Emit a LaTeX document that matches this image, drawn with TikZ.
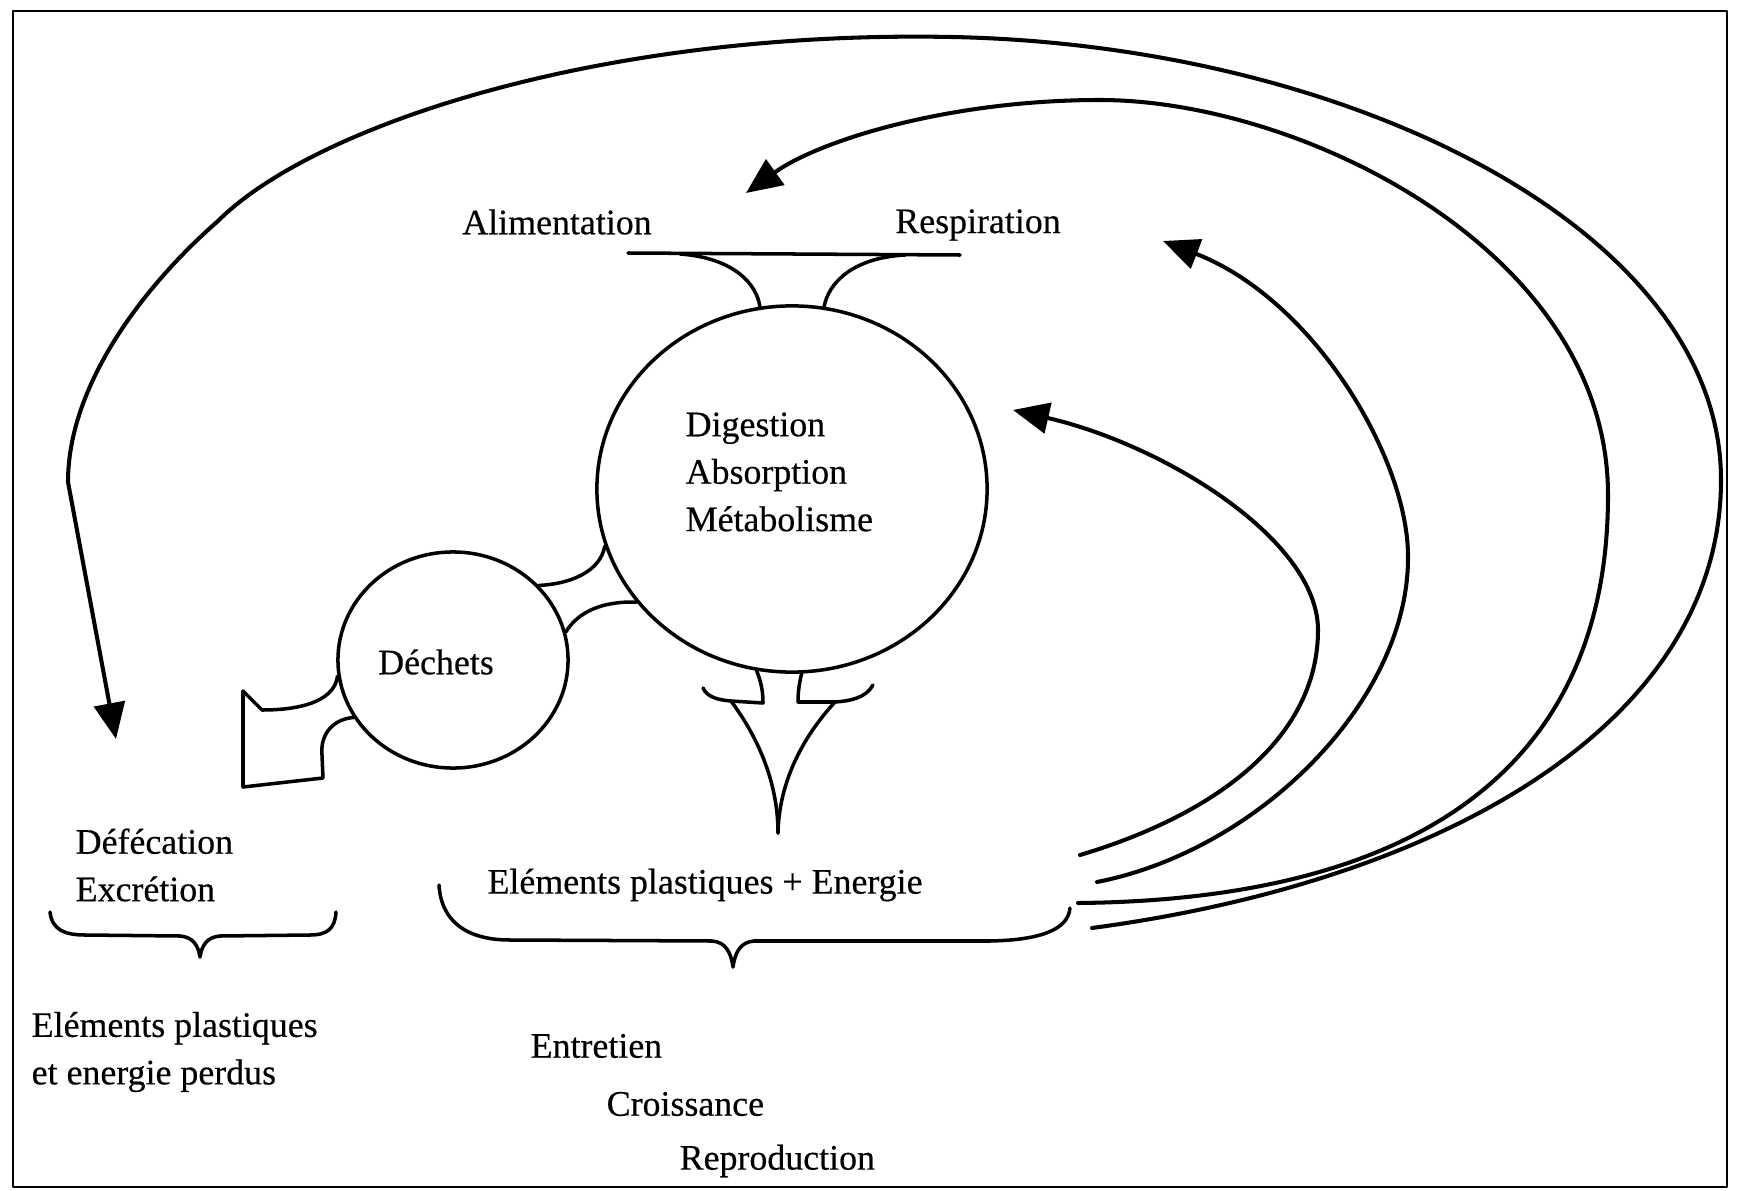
\documentclass[tikz,border=0pt]{standalone}
\usepackage{fontspec}
\setmainfont{Liberation Serif}[FakeBold=0.4]
\usetikzlibrary{arrows.meta,shapes.geometric}
\begin{document}
\begin{tikzpicture}[x=0.01cm,y=-0.01cm,
  line cap=round, line join=round,
  shp/.style={draw, line width=1pt},
  arc/.style={draw, line width=1.15pt, -{Triangle[length=3.6mm,width=3.1mm]}},
  lbl/.style={font=\fontsize{10.2}{13.5}\selectfont, inner sep=0pt},
  blob/.style={ellipse, draw, line width=1pt, inner sep=0pt}
]
\useasboundingbox (0,0) rectangle (1739,1191);
\fill[white] (0,0) rectangle (1739,1191);
\draw[line width=0.8pt] (13,11) rectangle (1727,1187);

% main shapes
\node[blob, minimum width=3.9cm, minimum height=3.66cm] (dig) at (792,489) {};
\node[blob, minimum width=2.3cm, minimum height=2.16cm] (dech) at (453,660) {};

% texts
\node[lbl, anchor=west, align=left] (digt) at (685,472) {Digestion\\Absorption\\Métabolisme};
\node[lbl] (alim) at (557,222) {Alimentation};
\node[lbl] (resp) at (978,225) {Respiration};
\node[lbl] (decht) at (436,662) {Déchets};
\node[lbl, anchor=west, align=left] (defe) at (75,865) {Défécation\\Excrétion};
\node[lbl] (epe) at (705,885) {Eléments plastiques + Energie};
\node[lbl, anchor=west, align=left] (perd) at (31,1052) {Eléments plastiques\\et energie perdus};
\node[lbl, anchor=west] (entr) at (530,1046) {Entretien};
\node[lbl, anchor=west] (crois) at (606,1104) {Croissance};
\node[lbl, anchor=west] (repro) at (679,1161) {Reproduction};

% top funnel
\coordinate (ftl) at (628,253);
\coordinate (ftr) at (960,255);
\draw[shp] (ftl) -- (ftr);
\draw[shp] (680,254) .. controls (735,258) and (757,285) .. (dig.100);
\draw[shp] (905,255) .. controls (850,258) and (828,285) .. (dig.80);

% bottom funnel
\coordinate (btip) at (778,833);
\draw[shp] (dig.259) .. controls (762,684) and (763,694) .. (763,703) -- (731,701) .. controls (718,700) and (707,697) .. (703,688);
\draw[shp] (731,701) .. controls (760,740) and (778,785) .. (btip);
\draw[shp] (dig.273) .. controls (799,684) and (798,693) .. (798,702) -- (835,702) .. controls (850,701) and (866,698) .. (873,685);
\draw[shp] (835,702) .. controls (800,740) and (779,785) .. (btip);

% dechets connectors
\draw[shp] (dech.41) .. controls (570,584) and (600,572) .. (dig.197);
\draw[shp] (dech.14) .. controls (578,612) and (602,601) .. (dig.216);
\draw[shp] (dech.188) .. controls (335,697) and (310,710) .. (262,710) -- (243,691) -- (243,787) -- (323,778) -- (322,755) .. controls (320,732) and (335,719) .. (dech.210);

% braces
\draw[shp] (50,912) .. controls (52,930) and (65,935) .. (85,935) -- (180,936) .. controls (193,937) and (198,945) .. (200,957) .. controls (202,945) and (207,937) .. (220,936) -- (310,935) .. controls (328,935) and (335,928) .. (336,912);
\draw[shp] (439,885) .. controls (441,920) and (465,940) .. (510,940) -- (712,941) .. controls (726,942) and (731,953) .. (733,967) .. controls (735,953) and (740,942) .. (754,941) -- (990,941) .. controls (1040,940) and (1068,930) .. (1070,908);

% return arcs
\coordinate (s1) at (1080,855); \coordinate (e1) at (1013,410);
\draw[arc] (s1) .. controls (1230,810) and (1318,730) .. (1318,630) .. controls (1318,540) and (1165,445) .. (e1);

\coordinate (s2) at (1097,882); \coordinate (e2) at (1163,241);
\draw[arc] (s2) .. controls (1260,850) and (1408,700) .. (1408,558) .. controls (1409,460) and (1315,300) .. (e2);

\coordinate (s3) at (1078,903); \coordinate (e3) at (746,193);
\draw[arc] (s3) .. controls (1400,900) and (1608,780) .. (1608,495) .. controls (1608,250) and (1300,100) .. (1100,100) .. controls (950,100) and (820,140) .. (e3);

\coordinate (s4) at (1092,928); \coordinate (e4) at (116,739);
\draw[arc] (s4) .. controls (1450,880) and (1721,720) .. (1721,480) .. controls (1721,230) and (1350,45) .. (952,37) .. controls (600,30) and (313,126) .. (218,221) .. controls (148,282) and (68,382) .. (68,482) -- (e4);
\end{tikzpicture}
\end{document}
